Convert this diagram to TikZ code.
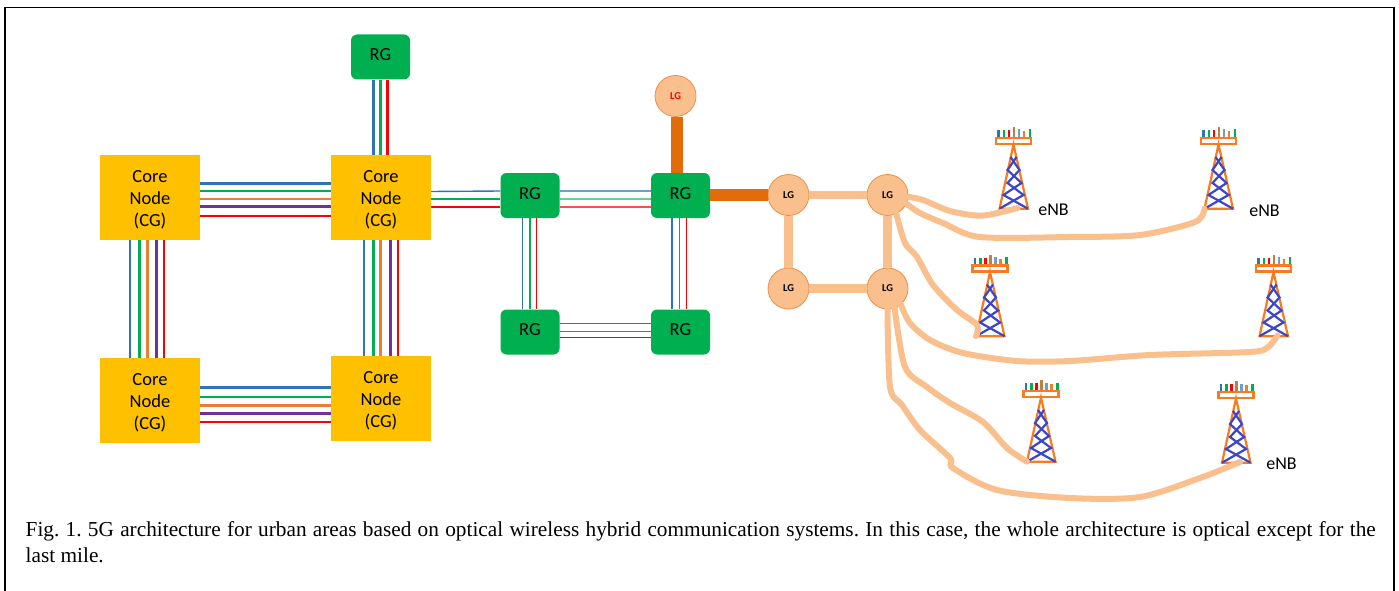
\documentclass[tikz,border=0pt]{standalone}
\usepackage{fontspec}
\setmainfont{Liberation Serif}
\newfontfamily\labelfont{Carlito}
\usepackage{tikz}
\usetikzlibrary{positioning}
\definecolor{coreyellow}{HTML}{FFC000}
\definecolor{rggreen}{HTML}{00B050}
\definecolor{lgpeach}{HTML}{F9BF8D}
\definecolor{lgedge}{HTML}{EC8F45}
\definecolor{lgorange}{HTML}{E36C0A}
\definecolor{fblue}{HTML}{2E75B6}
\definecolor{fgreen}{HTML}{00B050}
\definecolor{forange}{HTML}{ED7D31}
\definecolor{fpurple}{HTML}{7030A0}
\definecolor{fred}{HTML}{FF0000}
\definecolor{towerorange}{HTML}{F97B20}
\definecolor{towerblue}{HTML}{3C46C8}
\newcommand{\corelabel}{\rule{0pt}{16pt}Core\\Node\\(CG)}
\tikzset{
  corenode/.style={fill=coreyellow,minimum width=100pt,minimum height=85pt,inner sep=0pt,align=center,font=\labelfont\fontsize{18.5}{22}\selectfont},
  rgnode/.style={fill=rggreen,rounded corners=6pt,minimum width=59pt,minimum height=45pt,inner sep=0pt,text depth=5pt,font=\labelfont\fontsize{18.5}{20}\selectfont},
  lgnode/.style={circle,fill=lgpeach,draw=lgedge,line width=.8pt,minimum size=41pt,inner sep=0pt,font=\labelfont\bfseries\fontsize{10.5}{12}\selectfont},
  enblabel/.style={font=\labelfont\fontsize{18}{20}\selectfont},
  fiber/.style={line width=2.2pt},
  thinfiber/.style={line width=1.4pt},
  lgtrunk/.style={color=lgorange,line width=11.5pt},
  lglink/.style={color=lgpeach,line width=8.5pt},
  wire/.style={color=lgpeach,line width=6pt,line join=round,line cap=round},
  tower/.pic={
    \draw[line width=2.4pt,fblue] (-15,0)--(-15,-7);
    \draw[line width=2.4pt,fgreen] (-9.5,0)--(-9.5,-7);
    \draw[line width=2.4pt,fred] (-4.5,0)--(-4.5,-7);
    \draw[line width=2.4pt,brown] (0.5,0)--(0.5,-10);
    \draw[line width=2.4pt,fblue!70] (5.5,0)--(5.5,-7.5);
    \draw[line width=2.4pt,forange] (10.5,0)--(10.5,-6);
    \draw[line width=2.4pt,fgreen] (16.5,0)--(16.5,-7.5);
    \draw[towerorange,line width=2.4pt] (-17.5,1) rectangle (17.5,7);
    \draw[towerorange,line width=2.2pt] (-14,71.7)--(0,7.5)--(14.5,71.7)--cycle;
    \draw[towerblue,line width=2.2pt] (3,20)--(-6,33)--(8,46)--(-10,58)--(14.5,71.7);
    \draw[towerblue,line width=2.2pt] (-3,20)--(6,33)--(-6,46)--(10,58)--(-14,71.7);
    \coordinate (-left) at (-14,71.7);
    \coordinate (-mid) at (4,71);
  }
}
\begin{document}
\begin{tikzpicture}[x=1pt,y=-1pt]
\useasboundingbox (0,0) rectangle (1399,591);
\draw[black,line width=1.6pt] (5,591)--(5,7.5)--(1394,7.5)--(1394,591);

\node(coreA)[corenode] at (150,197.5) {\corelabel};
\node(coreB)[corenode] at (381,197.5) {\corelabel};
\node(coreC)[corenode] at (150,400.5) {\corelabel};
\node(coreD)[corenode] at (381,398.5) {\corelabel};

\node(rgTop)[rgnode] at (380.5,57) {RG};
\node(rgA)[rgnode] at (530,195.5) {RG};
\node(rgB)[rgnode] at (680.5,195.5) {RG};
\node(rgC)[rgnode] at (530,332) {RG};
\node(rgD)[rgnode] at (680.5,332) {RG};

\node(lgTop)[lgnode] at (675.5,96) {\color{red} LG};
\node(lgA)[lgnode] at (788.5,195) {LG};
\node(lgB)[lgnode] at (887.5,195) {LG};
\node(lgC)[lgnode] at (788.5,288.5) {LG};
\node(lgD)[lgnode] at (887.5,288.5) {LG};

\pic(towerA) at (1013.5,137) {tower};
\pic(towerB) at (1218.5,137) {tower};
\pic(towerC) at (990,264.5) {tower};
\pic(towerD) at (1273.5,264.5) {tower};
\pic(towerE) at (1041,390) {tower};
\pic(towerF) at (1236,391) {tower};

\node(enbA)[enblabel] at (1053.5,210) {eNB};
\node(enbB)[enblabel] at (1264.5,210.5) {eNB};
\node(enbF)[enblabel] at (1281.5,463.5) {eNB};

\draw[fiber,color=fblue] ([yshift=14pt]coreA.east)--([yshift=14pt]coreB.west);
\draw[fiber,color=fgreen] ([yshift=6.5pt]coreA.east)--([yshift=6.5pt]coreB.west);
\draw[fiber,color=forange] ([yshift=-1.5pt]coreA.east)--([yshift=-1.5pt]coreB.west);
\draw[fiber,color=fpurple] ([yshift=-9pt]coreA.east)--([yshift=-9pt]coreB.west);
\draw[fiber,color=fred] ([yshift=-18.5pt]coreA.east)--([yshift=-18.5pt]coreB.west);

\draw[fiber,color=fblue] ([yshift=13pt]coreC.east)--([yshift=11pt]coreD.west);
\draw[fiber,color=fgreen] ([yshift=3.5pt]coreC.east)--([yshift=1.5pt]coreD.west);
\draw[fiber,color=forange] ([yshift=-5pt]coreC.east)--([yshift=-7pt]coreD.west);
\draw[fiber,color=fpurple] ([yshift=-13pt]coreC.east)--([yshift=-15pt]coreD.west);
\draw[fiber,color=fred] ([yshift=-21.5pt]coreC.east)--([yshift=-23.5pt]coreD.west);

\draw[fiber,color=fblue] ([xshift=-20pt]coreA.south)--([xshift=-20pt]coreC.north);
\draw[fiber,color=fgreen] ([xshift=-10.5pt]coreA.south)--([xshift=-10.5pt]coreC.north);
\draw[fiber,color=forange] ([xshift=-2.5pt]coreA.south)--([xshift=-2.5pt]coreC.north);
\draw[fiber,color=fpurple] ([xshift=6.5pt]coreA.south)--([xshift=6.5pt]coreC.north);
\draw[fiber,color=fred] ([xshift=14pt]coreA.south)--([xshift=14pt]coreC.north);

\draw[fiber,color=fblue] ([xshift=-17pt]coreB.south)--([xshift=-17pt]coreD.north);
\draw[fiber,color=fgreen] ([xshift=-7.5pt]coreB.south)--([xshift=-7.5pt]coreD.north);
\draw[fiber,color=forange] ([xshift=-.5pt]coreB.south)--([xshift=-.5pt]coreD.north);
\draw[fiber,color=fpurple] ([xshift=9.5pt]coreB.south)--([xshift=9.5pt]coreD.north);
\draw[fiber,color=fred] ([xshift=17pt]coreB.south)--([xshift=17pt]coreD.north);

\draw[fiber,color=fblue] ([xshift=-7pt]rgTop.south)--([xshift=-7.5pt]coreB.north);
\draw[fiber,color=fgreen] ([xshift=0pt]rgTop.south)--([xshift=-.5pt]coreB.north);
\draw[fiber,color=fred] ([xshift=7pt]rgTop.south)--([xshift=6.5pt]coreB.north);

\draw[thinfiber,color=fblue] ([yshift=6pt]coreB.east)--([yshift=4.5pt]rgA.west);
\draw[thinfiber,color=fgreen] ([yshift=-1.5pt]coreB.east)--([yshift=-3.5pt]rgA.west);
\draw[thinfiber,color=fred] ([yshift=-9.5pt]coreB.east)--([yshift=-11.5pt]rgA.west);

\draw[thinfiber,color=fblue!70] ([yshift=4.5pt]rgA.east)--([yshift=4.5pt]rgB.west);
\draw[thinfiber,color=fgreen!60] ([yshift=-3.5pt]rgA.east)--([yshift=-3.5pt]rgB.west);
\draw[thinfiber,color=fred!70] ([yshift=-11.5pt]rgA.east)--([yshift=-11.5pt]rgB.west);

\draw[thinfiber,color=fblue] ([xshift=-7.5pt]rgA.south)--([xshift=-7.5pt]rgC.north);
\draw[thinfiber,color=fgreen] ([xshift=0pt]rgA.south)--([xshift=0pt]rgC.north);
\draw[thinfiber,color=fred] ([xshift=6.5pt]rgA.south)--([xshift=6.5pt]rgC.north);

\draw[thinfiber,color=fblue] ([xshift=-8.5pt]rgB.south)--([xshift=-8.5pt]rgD.north);
\draw[thinfiber,color=fgreen] ([xshift=-1pt]rgB.south)--([xshift=-1pt]rgD.north);
\draw[thinfiber,color=fred] ([xshift=6pt]rgB.south)--([xshift=6pt]rgD.north);

\draw[thinfiber,color=fblue] ([yshift=8.5pt]rgC.east)--([yshift=8.5pt]rgD.west);
\draw[thinfiber,color=fgreen] ([yshift=.5pt]rgC.east)--([yshift=.5pt]rgD.west);
\draw[thinfiber,color=fred] ([yshift=-5.5pt]rgC.east)--([yshift=-5.5pt]rgD.west);

\draw[lgtrunk] ([xshift=1.5pt]lgTop.south)--([xshift=-3.5pt]rgB.north);
\draw[lgtrunk] ([yshift=.5pt]rgB.east)--(lgA.west);

\draw[lglink] (lgA.east)--(lgB.west);
\draw[lglink] (lgC.east)--(lgD.west);
\draw[lglink] (lgA.south)--(lgC.north);
\draw[lglink] (lgB.south)--(lgD.north);

\draw[wire] plot[smooth,tension=.5] coordinates {(lgB.-5) (923,200) (950,211) (980,215.7) (1003,211.7) (towerA-mid)};
\draw[wire] plot[smooth,tension=.5] coordinates {(lgB.-25) (920,213) (943,223) (980,237) (1070,237) (1140,235) (1195,222) (towerB-left)};
\draw[wire] plot[smooth,tension=.5] coordinates {(lgB.-65) (905,243) (917,257) (933,285) (957,310) (977,325) (towerC-left)};
\draw[wire] plot[smooth,tension=.5] coordinates {(lgD.-50) (910,323) (930,340) (963,353) (1017,361) (1070,361) (1150,355) (1250,352) (1268,347) (towerD-mid)};
\draw[wire] plot[smooth,tension=.5] coordinates {(lgD.-70) (905,367) (927,387) (950,403) (983,422) (1007,448) (towerE-left)};
\draw[wire] plot[smooth,tension=.5] coordinates {(lgD.south) (890,387) (902,405) (920,430) (950,458) (953,468) (997,490) (1070,498) (1140,497) (1200,478) (towerF-mid)};

\node(caption)[anchor=north west,text width=1350pt,align=justify,inner sep=0pt,font=\frenchspacing\fontsize{21.3}{26}\selectfont] at (25.5,521) {Fig. 1. 5G architecture for urban areas based on optical wireless hybrid communication systems. In this case, the whole architecture is optical except for the\linebreak last mile.};
\end{tikzpicture}
\end{document}
